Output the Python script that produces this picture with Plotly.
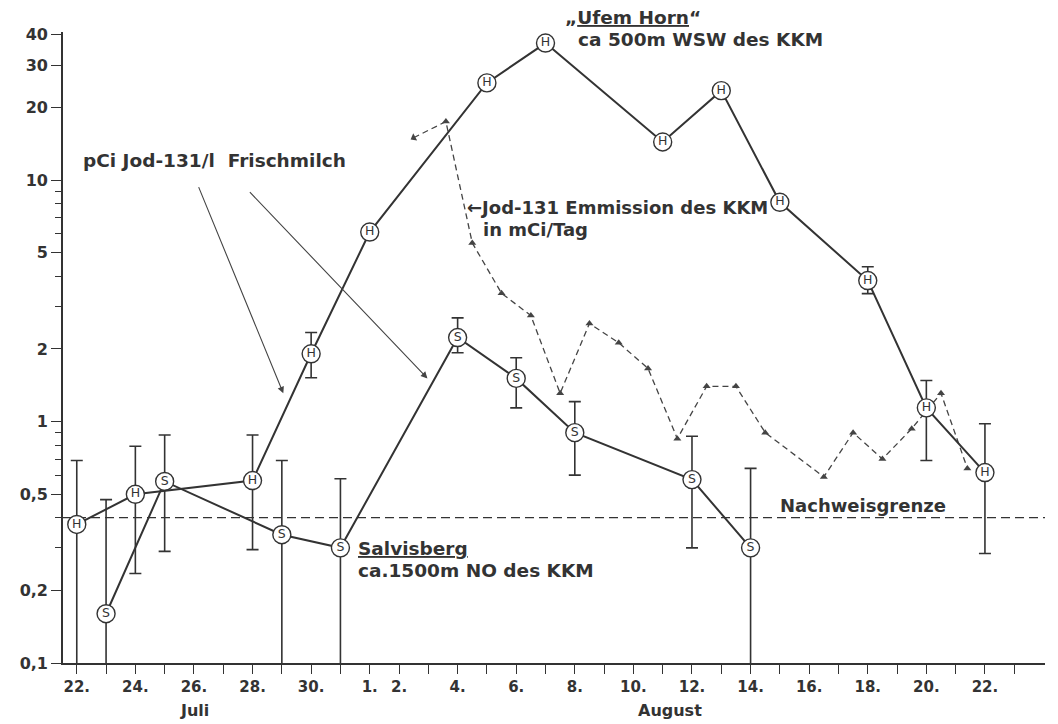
import math
import plotly.graph_objects as go

# ---- data (day index: 0 = 22. Juli, 10 = 1. August) ----
h_days = [0, 2, 6, 8, 10, 14, 16, 20, 22, 24, 27, 29, 31]
h_vals = [0.375, 0.50, 0.57, 1.91, 6.1, 25.3, 37.0, 14.4, 23.5, 8.1, 3.84, 1.14, 0.615]

h_err_days = [0, 2, 6, 8, 27, 29, 31]
h_err_vals = [0.375, 0.50, 0.57, 1.91, 3.84, 1.14, 0.615]
h_err_hi = [0.69, 0.79, 0.88, 2.34, 4.38, 1.48, 0.98]
h_err_lo = [0.05, 0.235, 0.295, 1.52, 3.39, 0.69, 0.284]

s_days = [1, 3, 7, 9, 13, 15, 17, 21, 23]
s_vals = [0.16, 0.565, 0.34, 0.30, 2.23, 1.51, 0.90, 0.575, 0.30]
s_err_hi = [0.475, 0.88, 0.69, 0.58, 2.69, 1.84, 1.21, 0.87, 0.64]
s_err_lo = [0.05, 0.29, 0.05, 0.05, 1.93, 1.14, 0.60, 0.30, 0.05]

e_days = [11.5, 12.6, 13.5, 14.5, 15.5, 16.5, 17.5, 18.5, 19.5, 20.5, 21.5, 22.5,
          23.5, 25.5, 26.5, 27.5, 28.5, 29.5, 30.4]
e_vals = [15.0, 17.5, 5.5, 3.4, 2.75, 1.31, 2.55, 2.12, 1.66, 0.85, 1.40, 1.40,
          0.90, 0.59, 0.90, 0.70, 0.935, 1.31, 0.64]

nachweisgrenze = 0.4

x_tick_days = list(range(0, 33))
x_tick_labels = {0: "22.", 2: "24.", 4: "26.", 6: "28.", 8: "30.", 10: "1.", 11: "2.",
                 13: "4.", 15: "6.", 17: "8.", 19: "10.", 21: "12.", 23: "14.",
                 25: "16.", 27: "18.", 29: "20.", 31: "22."}
y_tick_vals = [0.1, 0.2, 0.5, 1, 2, 5, 10, 20, 30, 40]
y_tick_text = ["0,1", "0,2", "0,5", "1", "2", "5", "10", "20", "30", "40"]
y_minor_vals = [0.3, 0.4, 0.6, 0.7, 0.8, 0.9, 3, 4, 6, 7, 8, 9]

INK = "#333333"
FONT = "DejaVu Sans"
X_RANGE = [-0.47, 33.05]
Y_RANGE = [-1.0, 1.614]

fig = go.Figure()

# detection limit line
fig.add_trace(go.Scatter(x=X_RANGE, y=[nachweisgrenze, nachweisgrenze], mode="lines",
                         line=dict(color=INK, width=1.1, dash="9px,5px"),
                         hoverinfo="skip", showlegend=False))

# emission (dashed with triangles)
e_symbols = ["triangle-up"] * len(e_days)
e_angles = [0] * len(e_days)
e_angles[0] = 241
fig.add_trace(go.Scatter(x=e_days, y=e_vals, mode="lines+markers",
                         line=dict(color="#444444", width=1.3, dash="6px,4px"),
                         marker=dict(symbol=e_symbols, angle=e_angles, size=7, color="#444444"),
                         showlegend=False))


# error bars
def err_trace(days, vals, hi, lo):
    return go.Scatter(x=days, y=vals, mode="markers",
                      marker=dict(size=1, color="rgba(0,0,0,0)"),
                      error_y=dict(type="data", symmetric=False,
                                   array=[h - v for h, v in zip(hi, vals)],
                                   arrayminus=[v - l for v, l in zip(vals, lo)],
                                   color=INK, thickness=1.6, width=6),
                      hoverinfo="skip", showlegend=False)


fig.add_trace(err_trace(h_err_days, h_err_vals, h_err_hi, h_err_lo))
fig.add_trace(err_trace(s_days, s_vals, s_err_hi, s_err_lo))

# series with letter markers
for days, vals, letter in [(s_days, s_vals, "S"), (h_days, h_vals, "H")]:
    fig.add_trace(go.Scatter(x=days, y=vals, mode="lines+markers+text",
                             text=[letter] * len(days), textposition="middle center",
                             textfont=dict(family=FONT, size=12.5, color=INK),
                             line=dict(color=INK, width=2),
                             marker=dict(symbol="circle", size=18, color="white",
                                         line=dict(color=INK, width=1.4)),
                             cliponaxis=False, showlegend=False))

# page body has an 8px margin: work in page pixels and shift
OFF = 8
W, H = 1058 - OFF, 724 - OFF
L, T = 56 - OFF, 32 - OFF
R = W - (1045 - OFF)
B = H - (663 - OFF)
pw, ph = W - L - R, H - T - B


def px(x):
    return (x - OFF - L) / pw


def py(y):
    return (H - B - (y - OFF)) / ph


def label(text, x, y, size=18.5, xanchor="left"):
    return dict(text=text, x=px(x), y=py(y), xref="paper", yref="paper",
                xanchor=xanchor, yanchor="middle", showarrow=False,
                font=dict(family=FONT, size=size, color=INK, weight="bold"))


annotations = [
    label("\u201e<u>Ufem Horn</u>\u201c", 560, 18),
    label("ca 500m WSW des KKM", 573, 40),
    label("pCi Jod-131/l  Frischmilch", 74, 160),
    label("\u2190Jod-131 Emmission des KKM", 461, 208, size=18),
    label("in mCi/Tag", 477, 230, size=18),
    label("<u>Salvisberg</u>", 351, 548),
    label("ca.1500m NO des KKM", 351, 570),
    label("Nachweisgrenze", 776, 505, size=18),
    label("Juli", 188, 710, size=16, xanchor="center"),
    label("August", 667, 710, size=16, xanchor="center"),
]

# pointer arrows (data coordinates: day index, log10 value)
arrow_tails = [(4.14, 9.5), (5.86, 9.05)]
arrow_heads = [(7.05, 1.31), (11.97, 1.51)]
for (tx, tv), (hx, hv) in zip(arrow_tails, arrow_heads):
    annotations.append(dict(x=hx, y=math.log10(hv), ax=tx, ay=math.log10(tv),
                            xref="x", yref="y", axref="x", ayref="y",
                            showarrow=True, arrowhead=2, arrowsize=1.2, arrowwidth=1.1,
                            arrowcolor="#444444", text=""))

fig.update_layout(
    width=W, height=H,
    margin=dict(l=L, r=R, t=T, b=B),
    paper_bgcolor="white", plot_bgcolor="white",
    showlegend=False,
    annotations=annotations,
    xaxis=dict(range=X_RANGE, showgrid=False, zeroline=False, showline=True,
               linecolor=INK, linewidth=1.6, ticks="outside", ticklen=9, tickwidth=1.4,
               tickcolor=INK, tickmode="array", tickvals=x_tick_days,
               ticktext=[x_tick_labels.get(d, "") for d in x_tick_days],
               tickfont=dict(family=FONT, size=15, color=INK, weight="bold")),
    yaxis=dict(type="log", range=Y_RANGE, showgrid=False, zeroline=False, showline=True,
               linecolor=INK, linewidth=1.6, ticks="outside", ticklen=10, tickwidth=1.4,
               tickcolor=INK, tickmode="array", tickvals=y_tick_vals, ticktext=y_tick_text,
               tickfont=dict(family=FONT, size=16, color=INK, weight="bold"),
               minor=dict(tickmode="array", tickvals=y_minor_vals, ticks="outside",
                          ticklen=6, tickwidth=1.2, tickcolor=INK, showgrid=False)),
)

fig.write_html("out.html")
